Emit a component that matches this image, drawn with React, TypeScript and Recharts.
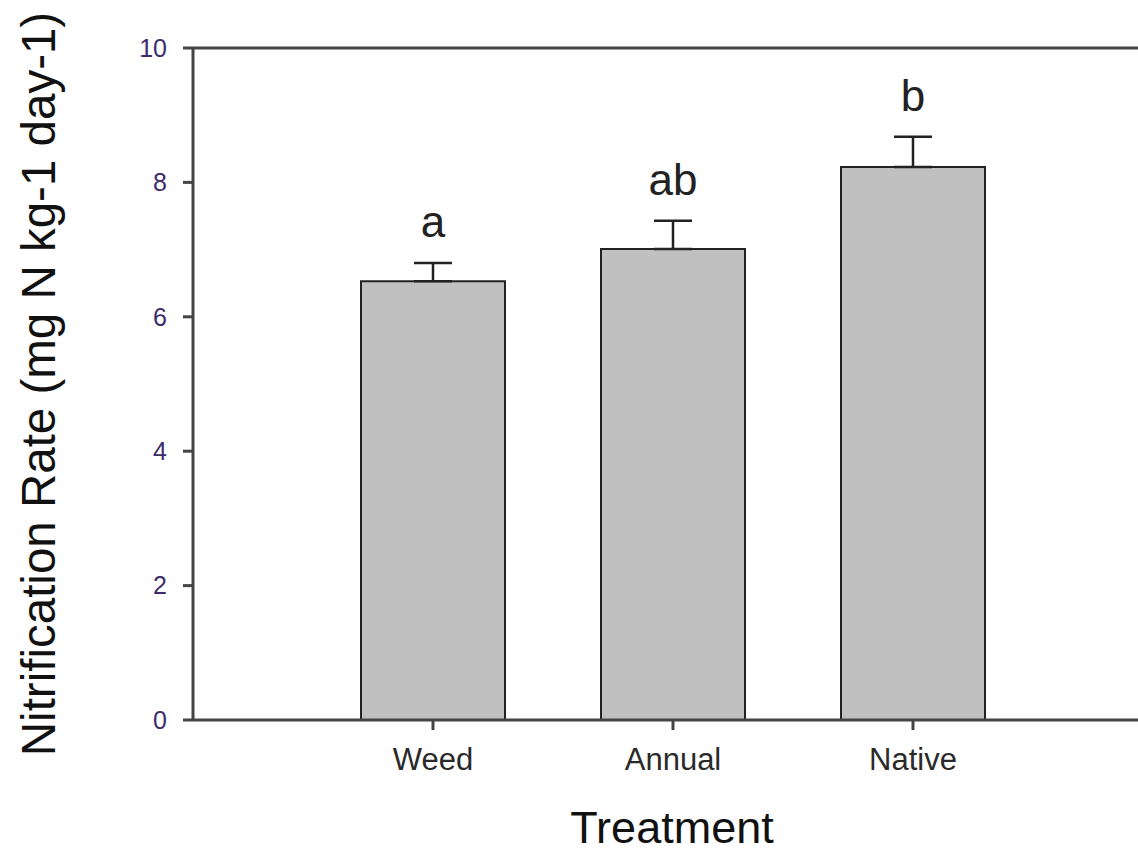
import React from "react";
import { BarChart, Bar, XAxis, YAxis, ErrorBar, ReferenceLine, LabelList } from "recharts";

const categories = ["Weed", "Annual", "Native"];
const rates = [6.53, 7.01, 8.23];
const upperErrors = [0.27, 0.42, 0.45];
const letters = ["a", "ab", "b"];
const yTicks = [0, 2, 4, 6, 8, 10];

const data = categories.map((c, i) => ({
  name: c,
  rate: rates[i],
  err: [0, upperErrors[i]],
  letter: letters[i],
  top: rates[i] + upperErrors[i],
}));

const FONT = "'Liberation Sans', Arial, sans-serif";

const LetterLabel = (props: any) => {
  const { x, width, index } = props;
  const d = data[index];
  const barTop = props.y;
  const barHeight = props.height;
  const pxPerUnit = barHeight / d.rate;
  const capY = barTop - (d.top - d.rate) * pxPerUnit;
  return (
    <text
      x={x + width / 2}
      y={capY - 26}
      textAnchor="middle"
      fontFamily={FONT}
      fontSize={44}
      fill="#222"
    >
      {d.letter}
    </text>
  );
};

export default function App() {
  return (
    <div style={{ position: "fixed", left: 0, top: 0, width: 1138, height: 855, overflow: "hidden", background: "#fff" }}>
      <BarChart
        width={1160}
        height={855}
        data={data}
        margin={{ top: 48, right: 7, bottom: 0, left: 0 }}
        barCategoryGap="20%"
      >
        <ReferenceLine y={10} stroke="#444" strokeWidth={3} />
        <XAxis
          dataKey="name"
          padding={{ left: 120, right: 120 }}
          axisLine={{ stroke: "#444", strokeWidth: 3 }}
          tickLine={{ stroke: "#444", strokeWidth: 3 }}
          tickSize={10}
          tickMargin={18}
          tick={{ fontFamily: FONT, fontSize: 31, fill: "#2a2a2a" }}
          height={135}
          label={(p: any) => (
            <text x={672} y={843} textAnchor="middle" fontFamily={FONT} fontSize={45} fill="#111">
              Treatment
            </text>
          )}
        />
        <YAxis
          domain={[0, 10]}
          ticks={yTicks}
          width={193}
          interval={0}
          axisLine={{ stroke: "#444", strokeWidth: 3 }}
          tickLine={{ stroke: "#444", strokeWidth: 3 }}
          tickSize={10}
          tickMargin={16}
          tick={{ fontFamily: FONT, fontSize: 25, fill: "#3d2b6b" }}
          label={(p: any) => (
            <text
              x={55}
              y={384}
              transform="rotate(-90, 55, 384)"
              textAnchor="middle"
              fontFamily={FONT}
              fontSize={47.5}
              fill="#111"
            >
              Nitrification Rate (mg N kg-1 day-1)
            </text>
          )}
        />
        <Bar dataKey="rate" fill="#c0c0c0" stroke="#222" strokeWidth={2} isAnimationActive={false}>
          <ErrorBar dataKey="err" direction="y" width={19} stroke="#222" strokeWidth={2.5} isAnimationActive={false} />
          <LabelList dataKey="letter" content={LetterLabel} />
        </Bar>
      </BarChart>
    </div>
  );
}
